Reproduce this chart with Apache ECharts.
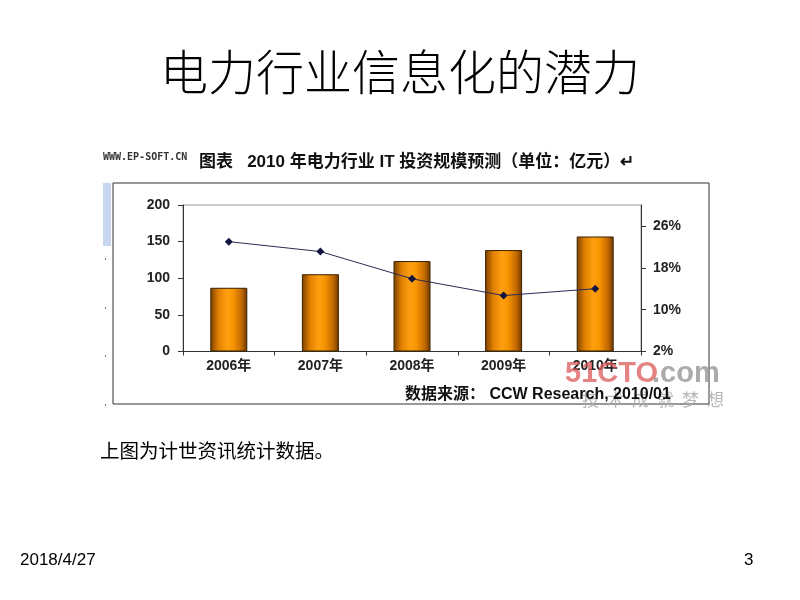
<!DOCTYPE html>
<html><head><meta charset="utf-8">
<script src="https://cdn.jsdelivr.net/npm/echarts@6/dist/echarts.min.js"></script>
<style>html,body{margin:0;padding:0;background:#fff}#c{width:800px;height:600px}</style>
</head><body><div id="c"></div>
<script>
const categories = ['2006年','2007年','2008年','2009年','2010年'];
const investment = [87, 105.5, 123.5, 138.5, 157];
const growthRate = [23.0, 21.1, 15.9, 12.7, 14.0];
const leftTicks = [0, 50, 100, 150, 200];
const rightTicks = ['2%','10%','18%','26%'];
const sloganChars = ['技','术','成','就','梦','想'];

const chart = echarts.init(document.getElementById('c'), null, {renderer:'canvas'});
const boldFont = 'Liberation Sans, Arial, sans-serif';
const mixFont = '"Liberation Sans", "Noto Sans CJK SC", sans-serif';
const cjk = '"Noto Sans CJK SC", sans-serif';

const slogan = sloganChars.map(function(ch, i){
  return {type:'text', left:582 + i*25, top:391, z:9, style:{text:ch, fontSize:17, fontFamily:cjk, fill:'rgba(170,170,170,0.85)'}};
});

chart.setOption({
  backgroundColor:'#fff',
  animation:false,
  grid:{left:183, right:159, top:205, bottom:248.5, show:true, borderColor:'#999', borderWidth:1, backgroundColor:'transparent'},
  xAxis:{type:'category', data:categories, boundaryGap:true,
    axisLine:{lineStyle:{color:'#333', width:1}},
    axisTick:{show:true, inside:false, length:4, lineStyle:{color:'#333'}},
    axisLabel:{color:'#222', fontWeight:'bold', fontSize:14, fontFamily:mixFont, margin:8},
    splitLine:{show:false}},
  yAxis:[
    {type:'value', min:leftTicks[0], max:leftTicks[leftTicks.length-1], interval:50,
     axisLine:{show:true, lineStyle:{color:'#333'}}, axisTick:{show:true, length:5, lineStyle:{color:'#333'}},
     axisLabel:{color:'#222', fontWeight:'bold', fontSize:14, fontFamily:boldFont, margin:13},
     splitLine:{show:false}},
    {type:'value', min:2, max:30, interval:8, position:'right',
     axisLine:{show:true, lineStyle:{color:'#333'}}, axisTick:{show:true, length:5, lineStyle:{color:'#333'}},
     axisLabel:{color:'#222', fontWeight:'bold', fontSize:14, fontFamily:boldFont, margin:12, showMaxLabel:false,
       formatter:function(v){return rightTicks.indexOf(v+'%')>=0 ? v+'%' : '';}},
     splitLine:{show:false}}
  ],
  series:[
    {type:'bar', data:investment, barWidth:37, yAxisIndex:0,
     itemStyle:{borderColor:'#3a2200', borderWidth:1,
       color:{type:'linear', x:0, y:0, x2:1, y2:0, colorStops:[
         {offset:0, color:'#7a4000'},{offset:0.22, color:'#e08000'},{offset:0.45, color:'#ffa010'},
         {offset:0.62, color:'#f89400'},{offset:0.85, color:'#c06800'},{offset:1, color:'#6a3500'}]}}},
    {type:'line', data:growthRate, yAxisIndex:1, symbol:'diamond', symbolSize:8,
     lineStyle:{color:'#2a2a55', width:1}, itemStyle:{color:'#141440'}}
  ],
  graphic:[
    {type:'text', left:'center', top:48, style:{text:'电力行业信息化的潜力', fontSize:48, fontFamily:cjk, fontWeight:300, fill:'#000'}},
    {type:'text', left:103, top:152, style:{text:'WWW.EP-SOFT.CN', fontSize:10, fontFamily:'DejaVu Sans Mono, monospace', fontWeight:'bold', fill:'#333'}},
    {type:'text', left:199, top:154, style:{text:'图表   2010 年电力行业 IT 投资规模预测（单位：亿元）↵', fontSize:17, fontFamily:mixFont, fontWeight:'bold', fill:'#111'}},
    {type:'rect', shape:{x:113, y:183, width:596, height:221}, style:{fill:'none', stroke:'#333', lineWidth:1}, z:-1},
    {type:'rect', shape:{x:103, y:183, width:8, height:63}, style:{fill:'#c5d6ee'}},
    {type:'rect', shape:{x:105, y:258, width:1, height:2}, style:{fill:'#777'}},
    {type:'rect', shape:{x:105, y:307, width:1, height:2}, style:{fill:'#777'}},
    {type:'rect', shape:{x:105, y:355, width:1, height:2}, style:{fill:'#777'}},
    {type:'rect', shape:{x:105, y:404, width:1, height:2}, style:{fill:'#777'}},
    {type:'text', left:565, top:359, z:10, style:{text:'51CTO', fontSize:29, fontFamily:boldFont, fontWeight:'bold', fill:'rgba(220,90,90,0.75)'}},
    {type:'text', left:652, top:359, z:10, style:{text:'.com', fontSize:29, fontFamily:boldFont, fontWeight:'bold', fill:'rgba(150,150,150,0.8)'}},
    {type:'text', left:405, top:387, z:11, style:{text:'数据来源： CCW Research, 2010/01', fontSize:16, fontFamily:mixFont, fontWeight:'bold', fill:'#111'}},
    {type:'text', left:100, top:441, style:{text:'上图为计世资讯统计数据。', fontSize:19.5, fontFamily:cjk, fill:'#000'}},
    {type:'text', left:20, top:552, style:{text:'2018/4/27', fontSize:17, fontFamily:'Liberation Sans Narrow, Liberation Sans, Arial', fill:'#000'}},
    {type:'text', left:744, top:552, style:{text:'3', fontSize:17, fontFamily:'Liberation Sans Narrow, Liberation Sans, Arial', fill:'#000'}}
  ].concat(slogan)
});
</script></body></html>
